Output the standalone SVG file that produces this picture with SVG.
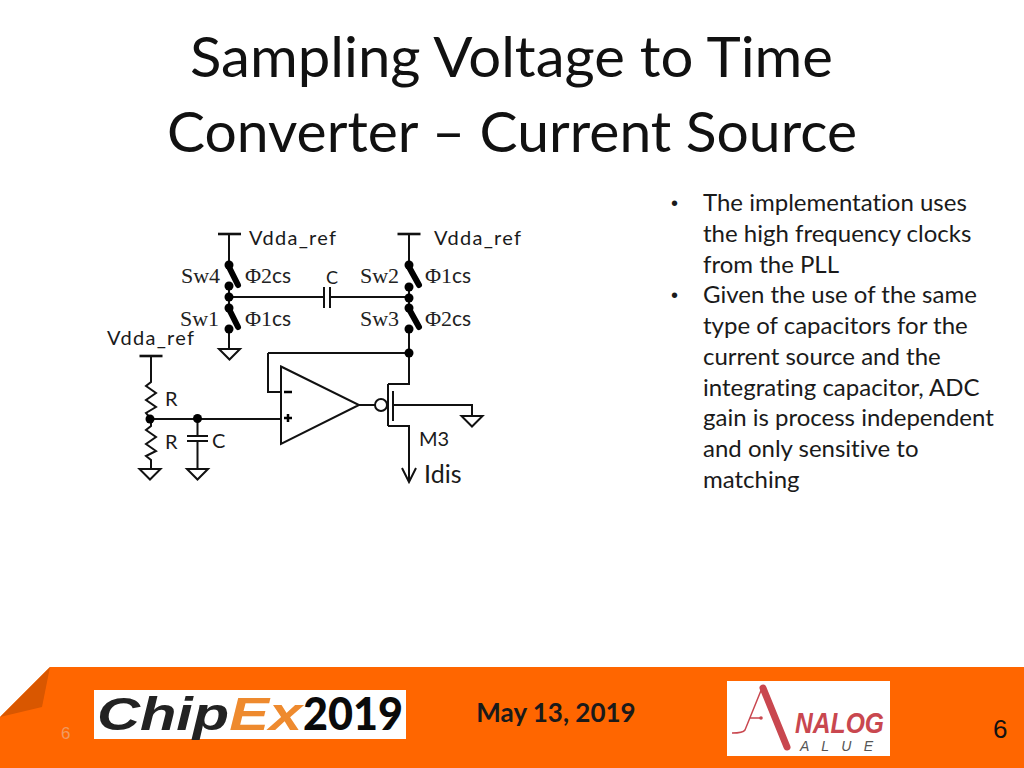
<svg xmlns="http://www.w3.org/2000/svg" width="1024" height="768" viewBox="0 0 1024 768">
<style>
.w{fill:none;stroke:#111;stroke-width:2;stroke-linejoin:miter}
.g{fill:#fff;stroke:#111;stroke-width:2}
.d{fill:#000;stroke:none}
.sw{fill:none;stroke:#000;stroke-width:6;stroke-linecap:round}
.t{font-family:"Lato","Open Sans",sans-serif;fill:#1a1a1a;font-variant-ligatures:none}
.title{font-size:56px;fill:#111}
.body{font-size:24px;fill:#1a1a1a}
.bl{font-family:"Liberation Sans",sans-serif;font-size:20px;fill:#1a1a1a}
.vd{font-size:20px;letter-spacing:1.300px}
.lb{font-size:20px}
.s{font-family:"Liberation Serif",serif;font-size:22px;fill:#222}
.cs{font-family:"Lato",sans-serif;font-size:21px}
</style>
<defs>
<g id="gnd"><path class="g" d="M-10.500 0H10.500L0 10.500Z"/></g>
<g id="vdd"><path d="M-11.500 0H11.500" fill="none" stroke="#111" stroke-width="2.600"/></g>
</defs>
<rect width="1024" height="768" fill="#fff"/>
<g id="title">
<text class="t title" x="190" y="77" textLength="643" lengthAdjust="spacingAndGlyphs">Sampling Voltage to Time</text>
<text class="t title" x="167" y="152" textLength="690" lengthAdjust="spacingAndGlyphs">Converter – Current Source</text>
</g>
<g id="bullets">
<text class="bl" x="671" y="210">•</text>
<text class="t body" x="703" y="211">The implementation uses</text>
<text class="t body" x="703" y="242">the high frequency clocks</text>
<text class="t body" x="703" y="273">from the PLL</text>
<text class="bl" x="671" y="302">•</text>
<text class="t body" x="703" y="303">Given the use of the same</text>
<text class="t body" x="703" y="334">type of capacitors for the</text>
<text class="t body" x="703" y="365">current source and the</text>
<text class="t body" x="703" y="396">integrating capacitor, ADC</text>
<text class="t body" x="703" y="426">gain is process independent</text>
<text class="t body" x="703" y="457">and only sensitive to</text>
<text class="t body" x="703" y="488">matching</text>
</g>
<g id="connectors">
<path class="w" d="M229 234V265M229 286V308M229 328V349M229 297H324M330 297H409M409 234V265M409 286V308M409 328V384H388M268 353H409M268 353V392H281"/>
<path class="w" d="M151 356V382L146 386 156 393 146 400 156 407 146 413 151 419V426L146 430 156 437 146 444 156 451 146 456 151 460V469M151 419H281M197.500 419V436M197.500 441V469"/>
<path class="w" d="M359 405H375M388 426H409V482M402 468L409 482 416 468M393 405H472V416"/>
</g>
<g id="vdd-left"><use href="#vdd" x="229.500" y="234"/><text class="t vd" x="249" y="245">Vdda_ref</text></g>
<g id="vdd-right"><use href="#vdd" x="409" y="234"/><text class="t vd" x="434" y="245">Vdda_ref</text></g>
<g id="vdd-bias"><use href="#vdd" x="151" y="356"/><text class="t vd" x="107" y="345">Vdda_ref</text></g>
<g id="sw4"><circle class="d" cx="229" cy="265" r="4.500"/><circle class="d" cx="229" cy="286" r="4.500"/><path class="sw" d="M229 267L238 285"/>
<text class="s" x="181" y="283">Sw4</text><text class="s" x="245" y="283">Φ2<tspan class="cs">cs</tspan></text></g>
<g id="sw1"><circle class="d" cx="229" cy="308" r="4.500"/><circle class="d" cx="229" cy="329" r="4.500"/><path class="sw" d="M229 309L238 327"/>
<text class="s" x="180" y="326">Sw1</text><text class="s" x="245" y="326">Φ1<tspan class="cs">cs</tspan></text></g>
<g id="sw2"><circle class="d" cx="409" cy="265" r="4.500"/><circle class="d" cx="409" cy="287" r="4.500"/><path class="sw" d="M409 267L419 285"/>
<text class="s" x="360" y="283">Sw2</text><text class="s" x="425" y="283">Φ1<tspan class="cs">cs</tspan></text></g>
<g id="sw3"><circle class="d" cx="409" cy="308" r="4.500"/><circle class="d" cx="409" cy="329" r="4.500"/><path class="sw" d="M409 309L419 327"/>
<text class="s" x="360" y="326">Sw3</text><text class="s" x="425" y="326">Φ2<tspan class="cs">cs</tspan></text></g>
<g id="junctions"><circle class="d" cx="229" cy="297" r="4.500"/><circle class="d" cx="409" cy="298" r="4.500"/><circle class="d" cx="409" cy="353" r="4.500"/><circle class="d" cx="150" cy="419" r="4.500"/><circle class="d" cx="197.500" cy="418.500" r="4.500"/></g>
<g id="cap-c"><path class="w" d="M324 287V308M330 287V308"/><text class="t" font-size="18" x="326" y="284">C</text></g>
<g id="gnd-sw"><use href="#gnd" x="229.500" y="349"/></g>
<g id="r-top"><text class="t lb" x="165" y="406">R</text></g>
<g id="r-bottom"><text class="t lb" x="165" y="449">R</text></g>
<g id="cap-bias"><path class="w" d="M187 436H208M187 441H208"/><text class="t lb" x="212" y="448">C</text></g>
<g id="gnd-r"><use href="#gnd" x="150" y="469"/></g>
<g id="gnd-c"><use href="#gnd" x="197.500" y="469"/></g>
<g id="opamp"><path class="g" d="M281 366.500L359 405 281 444Z"/>
<path d="M284 392H292M284 418H292M288 414V422" stroke="#000" stroke-width="2.500" fill="none"/></g>
<g id="m3"><circle cx="381" cy="405" r="6" fill="#fff" stroke="#111" stroke-width="2"/>
<path class="w" d="M388 384V426M393 391V421"/>
<text class="t lb" x="419" y="446">M3</text></g>
<g id="gnd-m3"><use href="#gnd" x="472" y="416"/></g>
<g id="idis"><text class="t" x="424" y="483" font-size="25">Idis</text></g>
<g id="footer">
<path d="M0 717L50 667H1024V768H0Z" fill="#ff6600"/>
<path d="M0 717L50 667L42 707Z" fill="#d95700"/>
<text x="61" y="739" font-family="Liberation Sans,sans-serif" font-size="17" fill="#f09a60">6</text>
<text class="t" x="556" y="722" text-anchor="middle" font-size="26" font-weight="700" fill="#111">May 13, 2019</text>
<text x="993" y="738" font-family="Liberation Sans,sans-serif" font-size="26" fill="#111">6</text>
</g>
<g id="logo-chipex">
<rect x="94" y="690" width="312" height="49" fill="#fff"/>
<text x="97" y="730" font-family="Liberation Sans,sans-serif" font-size="46" font-weight="700" font-style="italic" fill="#222" textLength="205" lengthAdjust="spacingAndGlyphs">Chip<tspan fill="#ee8a2e">Ex</tspan></text>
<text x="303" y="730" font-family="Lato,sans-serif" font-size="45" font-weight="900" fill="#0a0a0a" textLength="100" lengthAdjust="spacingAndGlyphs">2019</text>
</g>
<g id="logo-analog">
<rect x="727" y="681" width="163" height="75" fill="#fff"/>
<path d="M763 688L787 747" stroke="#c9474f" stroke-width="7" stroke-linecap="round" fill="none"/>
<path d="M762 688L745 730Q743 733 732 733M750 718H761" stroke="#c9474f" stroke-width="1.500" fill="none"/>
<circle cx="761" cy="718" r="1.800" fill="#c9474f"/>
<text x="795" y="733" font-family="Liberation Sans,sans-serif" font-size="30" font-weight="700" font-style="italic" fill="#c9474f" textLength="89" lengthAdjust="spacingAndGlyphs">NALOG</text>
<text x="800" y="751" font-family="Liberation Sans,sans-serif" font-size="14" font-style="italic" fill="#555" textLength="73">A L U E</text>
</g>
</svg>
